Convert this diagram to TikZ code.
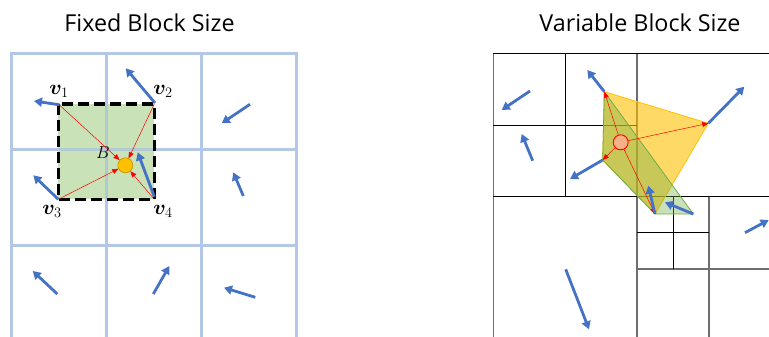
\documentclass[tikz,border=0pt]{standalone}
\usepackage{amsmath,amssymb,bm}
\usepackage{fontspec}
\newfontfamily\titlefont{Open Sans}
\usetikzlibrary{arrows.meta}
\definecolor{gridblue}{RGB}{180,199,231}
\definecolor{arrowblue}{RGB}{68,114,196}
\definecolor{boxgreen}{RGB}{169,209,142}
\definecolor{polygreen}{RGB}{112,173,71}
\definecolor{polyyellow}{RGB}{255,192,0}
\definecolor{dotorange}{RGB}{255,192,0}
\definecolor{dotedge}{RGB}{191,144,0}
\definecolor{salmon}{RGB}{244,177,131}
\definecolor{linegray}{RGB}{110,110,110}
\tikzset{
  gridline/.style={draw=gridblue, line width=3pt},
  vecarrow/.style={draw=arrowblue, line width=2.8pt, -{Triangle[length=8pt,width=9pt]}},
  redarrow/.style={draw=red, line width=0.5pt, -{Triangle[length=6pt,width=5pt]}},
  qline/.style={draw=black, line width=1pt},
  qgray/.style={draw=linegray, line width=1.6pt},
  titletext/.style={font=\titlefont\fontsize{23.3}{27}\selectfont, inner sep=0pt},
  vlabel/.style={font=\fontsize{22}{26}\selectfont, inner sep=0pt}
}
\begin{document}
\begin{tikzpicture}[x=1pt,y=-1pt]
\useasboundingbox (0,0) rectangle (769,337);
\clip (0,0) rectangle (769,337);
% titles
\node[titletext] (t1) at (149.5,23) {Fixed Block Size};
\node[titletext] (t2) at (640,23) {Variable Block Size};

% ---------------- left panel ----------------
\fill[boxgreen, opacity=0.5] (58.3,104) rectangle (154.3,199.3);
\foreach \x in {11,106,201.7,296.7} \draw[gridline] (\x,54) -- (\x,345);
\foreach \y in {54,149.3,245} \draw[gridline] (9.5,\y) -- (298.2,\y);
\fill[boxgreen, opacity=0.25] (58.3,104) rectangle (154.3,199.3);
\draw[black, line width=3.5pt, dash pattern=on 11pt off 5pt] (58.3,104) rectangle (154.3,199.3);
\coordinate (c1) at (58.3,104);
\coordinate (c2) at (154.3,104);
\coordinate (c3) at (58.3,199.3);
\coordinate (c4) at (154.3,199.3);
\node[circle, fill=dotorange, draw=dotedge, line width=0.6pt, minimum size=15pt, inner sep=0pt] (dot) at (125.3,165.3) {};
\node[font=\fontsize{19}{22}\selectfont, inner sep=0pt] (B) at (103,153) {$B$};
\draw[redarrow] (c1) -- (dot);
\draw[redarrow] (c2) -- (dot);
\draw[redarrow] (c3) -- (dot);
\draw[redarrow] (c4) -- (dot);
\node[vlabel] (l1) at (59,91) {$\bm{v}_1$};
\node[vlabel] (l2) at (163,91) {$\bm{v}_2$};
\node[vlabel] (l3) at (52,211) {$\bm{v}_3$};
\node[vlabel] (l4) at (163,211) {$\bm{v}_4$};
% blue vectors left
\coordinate (a1) at (34,101);
\coordinate (a2) at (125.7,68.3);
\coordinate (a3) at (33.3,175.3);
\coordinate (a4) at (137.7,152.3);
\draw[vecarrow] (59.5,104.8) -- (a1);
\draw[vecarrow] (155,103) -- (a2);
\draw[vecarrow] (58.3,199.3) -- (a3);
\draw[vecarrow] (154.3,196.7) -- (a4);
\coordinate (s5) at (250,104.3); \coordinate (e5) at (221.7,123.3);
\coordinate (s6) at (243.3,196); \coordinate (e6) at (233.3,172.3);
\coordinate (s7) at (57.3,294); \coordinate (e7) at (32.7,271);
\coordinate (s8) at (153.3,294); \coordinate (e8) at (169.3,266);
\coordinate (s9) at (255.3,297.3); \coordinate (e9) at (224,287.7);
\draw[vecarrow] (s5) -- (e5);
\draw[vecarrow] (s6) -- (e6);
\draw[vecarrow] (s7) -- (e7);
\draw[vecarrow] (s8) -- (e8);
\draw[vecarrow] (s9) -- (e9);

% ---------------- right panel ----------------
% quadtree lines
\draw[qgray] (493.3,54) -- (493.3,340);
\draw[qline] (493.3,54) -- (775,54);
\draw[qgray] (636.7,54) -- (636.7,340);
\draw[qline] (493.3,196.7) -- (775,196.7);
\draw[qline] (565.7,54) -- (565.7,196.7);
\draw[qline] (493.3,125) -- (636.7,125);
\draw[qgray] (708.7,196.7) -- (708.7,340);
\draw[qgray] (636.7,268.7) -- (775,268.7);
\draw[qline] (673.3,196.7) -- (673.3,268.7);
\draw[qline] (636.7,232.7) -- (708.7,232.7);
% polygons
\coordinate (P1) at (604.3,91.7);
\coordinate (P2) at (708.3,123.3);
\coordinate (P3) at (655,214);
\coordinate (P4) at (602.7,160);
\coordinate (P5) at (693.3,214);
\filldraw[fill=polyyellow, fill opacity=0.6, draw=polyyellow, line width=0.8pt] (P1) -- (P2) -- (P3) -- (P4) -- cycle;
\filldraw[fill=polygreen, fill opacity=0.38, draw=polygreen, line width=0.8pt] (P1) -- (P5) -- (P3) -- (P4) -- cycle;
\node[circle, fill=salmon, draw=red, line width=0.9pt, minimum size=15pt, inner sep=0pt] (rdot) at (620.7,142.3) {};
\draw[redarrow] (rdot) -- (P1);
\draw[redarrow] (rdot) -- (P2);
\draw[redarrow] (rdot) -- (P3);
\draw[redarrow] (rdot) -- (P4);
% blue vectors right
\coordinate (r1s) at (530,91); \coordinate (r1e) at (501.7,110);
\coordinate (r2e) at (587.3,70);
\coordinate (r3e) at (744.3,86.7);
\coordinate (r4s) at (532.7,160.7); \coordinate (r4e) at (521.7,134);
\coordinate (r5e) at (570,179);
\coordinate (r6e) at (648.3,185.7);
\coordinate (r7e) at (665,202.3);
\coordinate (r8s) at (745,232.7); \coordinate (r8e) at (768.7,220);
\coordinate (r9s) at (565.7,269.3); \coordinate (r9e) at (589,329.3);
\draw[vecarrow] (r1s) -- (r1e);
\draw[vecarrow] (P1) -- (r2e);
\draw[vecarrow] (P2) -- (r3e);
\draw[vecarrow] (r4s) -- (r4e);
\draw[vecarrow] (P4) -- (r5e);
\draw[vecarrow] (P3) -- (r6e);
\draw[vecarrow] (P5) -- (r7e);
\draw[vecarrow] (r8s) -- (r8e);
\draw[vecarrow] (r9s) -- (r9e);
\end{tikzpicture}
\end{document}
